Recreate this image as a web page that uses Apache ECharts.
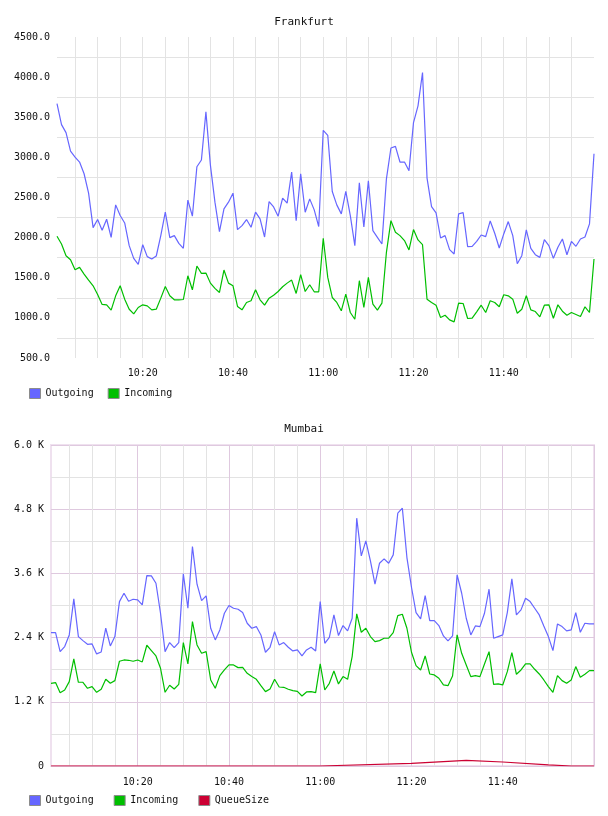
<!DOCTYPE html>
<html lang="en">

<head>
  <meta charset="utf-8">
  <title>Frankfurt / Mumbai traffic</title>
  <script src="https://cdn.jsdelivr.net/npm/echarts@6/dist/echarts.min.js"></script>
  <style>
    body {
      margin: 0;
      background: white;
      overflow: hidden;
    }

    #chart {
      width: 608px;
      height: 816px;
    }
  </style>
</head>

<body>
  <div id="chart"></div>

  <script>
    // --- Data.

    // One sample per minute, first one at 10:01.
    const FIRST_MINUTE = 10 * 60 + 1;
    const SAMPLE_COUNT = 120;

    // Labels that show under the x axis.
    const TICK_LABELS = ['10:20', '10:40', '11:00', '11:20', '11:40'];

    // Frankfurt.
    const FRA_OUT = [
      3671, 3408, 3308, 3079, 3004, 2942, 2796, 2554, 2125, 2225,
      2092, 2229, 2004, 2408, 2275, 2183, 1900, 1742, 1667, 1912,
      1763, 1733, 1771, 2025, 2317, 2000, 2025, 1929, 1867, 2467,
      2267, 2883, 2967, 3567, 2900, 2442, 2075, 2358, 2442, 2554,
      2100, 2150, 2225, 2129, 2317, 2233, 2008, 2450, 2383, 2267,
      2492, 2429, 2817, 2212, 2796, 2317, 2483, 2346, 2138, 3337,
      3275, 2575, 2408, 2296, 2575, 2275, 1900, 2683, 2133, 2708,
      2087, 2004, 1921, 2733, 3117, 3137, 2942, 2942, 2833, 3433,
      3642, 4058, 2742, 2387, 2308, 1996, 2025, 1850, 1796, 2296,
      2312, 1887, 1892, 1954, 2033, 2012, 2208, 2054, 1871, 2046,
      2200, 2025, 1675, 1775, 2096, 1867, 1787, 1754, 1975, 1900,
      1742, 1879, 1983, 1787, 1954, 1892, 1983, 2008, 2171, 3046
    ];
    const FRA_IN = [
      2017, 1921, 1775, 1725, 1600, 1629, 1546, 1471, 1400, 1292,
      1167, 1163, 1096, 1275, 1400, 1233, 1108, 1050, 1129, 1163,
      1150, 1100, 1108, 1246, 1392, 1275, 1225, 1225, 1229, 1525,
      1350, 1646, 1554, 1558, 1433, 1367, 1317, 1596, 1433, 1400,
      1142, 1100, 1192, 1213, 1350, 1225, 1158, 1246, 1283, 1329,
      1388, 1433, 1471, 1304, 1538, 1329, 1413, 1325, 1325, 1992,
      1504, 1254, 1192, 1088, 1296, 1067, 983, 1463, 1129, 1504,
      1171, 1096, 1183, 1817, 2212, 2067, 2025, 1963, 1846, 2100,
      1971, 1912, 1233, 1192, 1158, 1004, 1033, 975, 950, 1183,
      1179, 992, 996, 1075, 1158, 1067, 1213, 1192, 1138, 1288,
      1275, 1233, 1058, 1108, 1275, 1100, 1079, 1013, 1158, 1163,
      996, 1163, 1083, 1033, 1067, 1042, 1017, 1138, 1067, 1733
    ];

    // Mumbai.
    const BOM_OUT = [
      2494, 2494, 2138, 2232, 2450, 3123, 2419, 2344, 2275, 2282,
      2095, 2132, 2575, 2244, 2419, 3073, 3229, 3080, 3117, 3105,
      3011, 3560, 3554, 3416, 2855, 2138, 2307, 2213, 2307, 3591,
      2949, 4102, 3398, 3092, 3179, 2575, 2357, 2543, 2855, 2999,
      2949, 2930, 2868, 2668, 2575, 2606, 2450, 2126, 2219, 2512,
      2263, 2307, 2219, 2151, 2169, 2057, 2169, 2219, 2151, 3073,
      2294, 2406, 2824, 2438, 2625, 2525, 2762, 4632, 3927, 4208,
      3834, 3398, 3790, 3871, 3790, 3946, 4725, 4819, 3896, 3341,
      2868, 2749, 3186, 2718, 2718, 2625, 2431, 2338, 2431, 3572,
      3229, 2762, 2450, 2618, 2606, 2855, 3304, 2388, 2419, 2450,
      2868, 3497, 2824, 2918, 3136, 3073, 2949, 2824, 2618, 2419,
      2157, 2656, 2606, 2525, 2543, 2868, 2500, 2668, 2656, 2656
    ];
    const BOM_IN = [
      1546, 1559, 1371, 1421, 1577, 2001, 1565, 1565, 1453, 1484,
      1378, 1434, 1621, 1546, 1596, 1958, 1982, 1976, 1958, 1982,
      1945, 2257, 2157, 2057, 1827, 1378, 1509, 1440, 1527, 2307,
      1908, 2699, 2263, 2107, 2138, 1608, 1453, 1689, 1795, 1889,
      1889, 1839, 1845, 1733, 1671, 1621, 1502, 1390, 1440, 1621,
      1477, 1471, 1434, 1409, 1396, 1309, 1384, 1390, 1371, 1908,
      1421, 1546, 1777, 1534, 1671, 1621, 2045, 2843, 2500, 2575,
      2419, 2325, 2344, 2388, 2388, 2494, 2812, 2837, 2575, 2126,
      1876, 1795, 2057, 1720, 1702, 1640, 1515, 1502, 1683, 2450,
      2107, 1889, 1671, 1689, 1671, 1908, 2138, 1527, 1534, 1515,
      1764, 2120, 1714, 1795, 1908, 1908, 1808, 1720, 1608, 1484,
      1378, 1689, 1596, 1546, 1608, 1858, 1658, 1714, 1783, 1783
    ];
    // Queue is only read where the line bends, the gaps are joined.
    const BOM_QUEUE = [
      0, 0, 0, 0, 0, 0, 0, 0, 0, 0,
      0, 0, 0, 0, 0, 0, 0, 0, 0, 0,
      0, 0, 0, 0, 0, 0, 0, 0, 0, 0,
      0, 0, 0, 0, 0, 0, 0, 0, 0, 0,
      0, 0, 0, 0, 0, 0, 0, 0, 0, 0,
      0, 0, 0, 0, 0, 0, 0, 0, 0, 0,
      null, null, null, null, null, null, null, null, null, null,
      null, null, null, null, null, null, null, null, null, 50,
      null, null, null, null, null, null, null, null, null, null,
      null, 106, null, null, null, null, null, null, null, 75,
      null, null, null, null, null, null, null, null, null, 20,
      null, null, null, null, 0, 0, 0, 0, 0, 0
    ];


    // --- Look.

    const FONT = 'DejaVu Sans Mono';
    const TEXT = '#111';
    const GREY_LINE = '#e3e3e3';
    const PURPLE_LINE = '#dfc9df';

    const COLORS = {
      Outgoing: '#6666ff',
      Incoming: '#00bf00',
      QueueSize: '#cc0033'
    };


    // --- Helpers.

    // 'HH:MM' for every sample.
    function makeTimes() {
      const times = [];
      for (let i = 0; i < SAMPLE_COUNT; i++) {
        const m = FIRST_MINUTE + i;
        times.push(Math.floor(m / 60) + ':' + String(m % 60).padStart(2, '0'));
      }
      return times;
    }

    function minuteOf(label) {
      return Number(label.split(':')[1]);
    }

    function lineSeries(name, data, axisIndex) {
      return {
        name: name,
        type: 'line',
        xAxisIndex: axisIndex,
        yAxisIndex: axisIndex === 0 ? 0 : 1,
        data: data,
        showSymbol: false,
        connectNulls: true,
        lineStyle: { color: COLORS[name], width: 1.2 },
        itemStyle: { color: COLORS[name] },
        z: 3
      };
    }

    function legend(names, top, gap) {
      return {
        data: names,
        left: 24,
        top: top,
        icon: 'rect',
        itemWidth: 11,
        itemHeight: 10,
        itemGap: gap,
        selectedMode: false,
        itemStyle: { borderColor: '#8c8c8c', borderWidth: 1 },
        textStyle: { fontFamily: FONT, fontSize: 10, color: TEXT }
      };
    }

    const TIMES = makeTimes();

    const labelStyle = { fontFamily: FONT, fontSize: 10, color: TEXT };


    // --- Options.

    function makeOptions() {
      return {
        animation: false,
        title: [
          { text: 'Frankfurt', left: 'center', top: 12, textStyle: { fontFamily: FONT, fontSize: 11, fontWeight: 'normal', color: TEXT } },
          { text: 'Mumbai', left: 'center', top: 419, textStyle: { fontFamily: FONT, fontSize: 11, fontWeight: 'normal', color: TEXT } }
        ],
        legend: [
          legend(['Outgoing', 'Incoming'], 383, 14),
          legend(['Outgoing', 'Incoming', 'QueueSize'], 790, 20)
        ],
        grid: [
          { left: 57, right: 14, top: 37, height: 321 },
          { left: 51, right: 14, top: 445, height: 321, show: true, borderColor: '#efe1ef', borderWidth: 2 }
        ],
        xAxis: [
          // Frankfurt, grey lines every 5 minutes.
          {
            type: 'category', gridIndex: 0, data: TIMES, boundaryGap: false,
            axisLine: { show: false }, axisTick: { show: false },
            axisLabel: Object.assign({ interval: (i, v) => TICK_LABELS.includes(v), margin: 10 }, labelStyle),
            splitLine: { show: true, interval: (i, v) => i < SAMPLE_COUNT - 1 && minuteOf(v) % 5 === 0, lineStyle: { color: GREY_LINE } }
          },
          // Mumbai, grey lines every 5 minutes.
          {
            type: 'category', gridIndex: 1, data: TIMES, boundaryGap: false,
            axisLine: { show: false }, axisTick: { show: false },
            axisLabel: Object.assign({ interval: (i, v) => TICK_LABELS.includes(v), margin: 11 }, labelStyle),
            splitLine: { show: true, interval: (i, v) => minuteOf(v) % 5 === 0, lineStyle: { color: GREY_LINE } }
          },
          // Mumbai, purple lines every 20 minutes on top of the grey ones.
          {
            type: 'category', gridIndex: 1, data: TIMES, boundaryGap: false, position: 'top',
            axisLine: { show: false }, axisTick: { show: false }, axisLabel: { show: false },
            splitLine: { show: true, interval: (i, v) => minuteOf(v) % 20 === 0, lineStyle: { color: PURPLE_LINE } }
          }
        ],
        yAxis: [
          {
            type: 'value', gridIndex: 0, min: 500, max: 4500, interval: 500,
            axisLine: { show: false }, axisTick: { show: false },
            axisLabel: Object.assign({ formatter: v => v.toFixed(1), margin: 7 }, labelStyle),
            splitLine: { show: false },
            minorTick: { show: false, splitNumber: 2 },
            minorSplitLine: { show: true, lineStyle: { color: GREY_LINE } }
          },
          {
            type: 'value', gridIndex: 1, min: 0, max: 6000, interval: 1200,
            axisLine: { show: false }, axisTick: { show: false },
            axisLabel: Object.assign({ formatter: v => v === 0 ? '0' : (v / 1000).toFixed(1) + ' K', margin: 7 }, labelStyle),
            splitLine: { show: true, lineStyle: { color: PURPLE_LINE } },
            minorTick: { show: false, splitNumber: 2 },
            minorSplitLine: { show: true, lineStyle: { color: GREY_LINE } }
          }
        ],
        series: [
          lineSeries('Outgoing', FRA_OUT, 0),
          lineSeries('Incoming', FRA_IN, 0),
          lineSeries('Outgoing', BOM_OUT, 1),
          lineSeries('Incoming', BOM_IN, 1),
          lineSeries('QueueSize', BOM_QUEUE, 1)
        ]
      };
    }


    // --- Main.

    const chart = echarts.init(document.getElementById('chart'));
    chart.setOption(makeOptions());
  </script>
</body>

</html>
